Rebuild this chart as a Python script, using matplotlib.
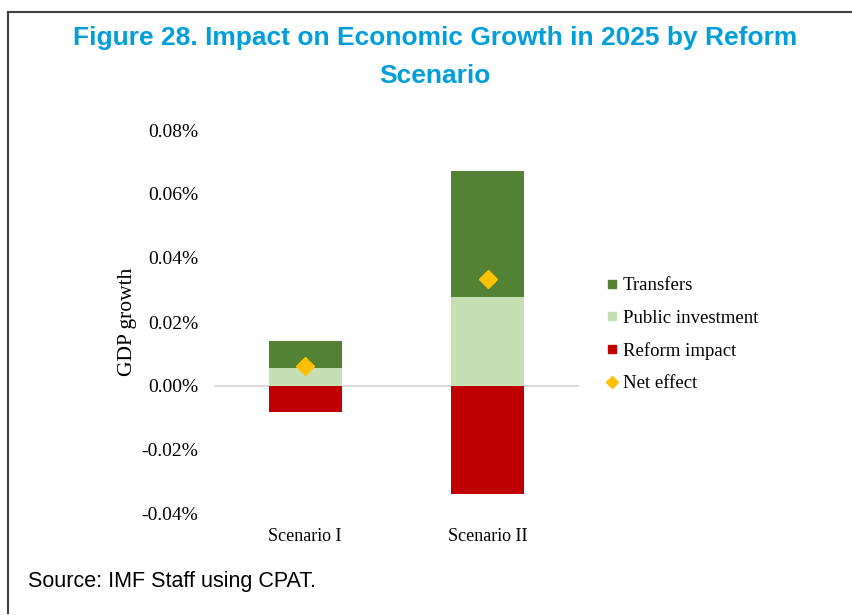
import matplotlib
matplotlib.use("Agg")
import matplotlib.pyplot as plt
from matplotlib.lines import Line2D
from matplotlib.ticker import FuncFormatter
import numpy as np

# GDP growth impact, percent
scenarios = ["Scenario I", "Scenario II"]
public_investment = [0.0055, 0.0279]
transfers = [0.0086, 0.0394]
reform_impact = [-0.0080, -0.0339]
net_effect = [0.0061, 0.0334]

c_transfers = "#548235"
c_public = "#C5E0B4"
c_reform = "#C00000"
c_net = "#FFC000"

serif = "Liberation Serif"
sans = "Liberation Sans"

fig = plt.figure(figsize=(8.53, 6.15), dpi=100)
ax = fig.add_axes([214/853, 1 - 514/615, 365/853, 384/615])

x = np.arange(len(scenarios))
w = 0.4
ax.bar(x, reform_impact, w, color=c_reform, zorder=2)
ax.bar(x, public_investment, w, color=c_public, zorder=2)
ax.bar(x, transfers, w, bottom=public_investment, color=c_transfers, zorder=2)
ax.plot(x, net_effect, linestyle="none", marker="D", markersize=9,
        color=c_net, zorder=3)
ax.axhline(0, color="#D9D9D9", lw=1.5, zorder=1)

ax.set_xlim(-0.5, 1.5)
ax.set_ylim(-0.04, 0.08)
ax.set_yticks(np.arange(-0.04, 0.081, 0.02))
ax.yaxis.set_major_formatter(FuncFormatter(lambda v, p: f"{v:.2f}%"))
ax.set_xticks(x)
ax.set_xticklabels(scenarios)
for s in ax.spines.values():
    s.set_visible(False)
ax.tick_params(axis="y", length=0, labelsize=14, pad=11.5)
ax.tick_params(axis="x", length=0, labelsize=13, pad=10)
for lab in ax.get_xticklabels() + ax.get_yticklabels():
    lab.set_fontfamily(serif)
ax.set_ylabel("GDP growth", fontsize=15.5, fontfamily=serif, labelpad=3)

handles = [
    Line2D([], [], linestyle="none", marker="s", markersize=6, color=c_transfers),
    Line2D([], [], linestyle="none", marker="s", markersize=6, color=c_public),
    Line2D([], [], linestyle="none", marker="s", markersize=6, color=c_reform),
    Line2D([], [], linestyle="none", marker="D", markersize=6, color=c_net),
]
labels = ["Transfers", "Public investment", "Reform impact", "Net effect"]
fig.legend(handles, labels, loc="upper left", bbox_to_anchor=(606/853, 1 - 277/615),
           frameon=False, prop={"family": serif, "size": 13.5},
           handlelength=0.6, handletextpad=0.3, labelspacing=0.82,
           borderpad=0, borderaxespad=0)

fig.text(435/853, 1 - 57/615,
         "Figure 28. Impact on Economic Growth in 2025 by Reform\nScenario",
         ha="center", va="center", fontsize=19, fontweight="bold",
         color="#009FDA", family=sans, linespacing=1.7)
fig.text(28/853, 1 - 582/615, "Source: IMF Staff using CPAT.", ha="left",
         va="center", fontsize=15.5, family=sans, color="black")

# frame around the figure
fig.add_artist(Line2D([8/853, 8/853], [1 - 613/615, 1 - 12/615],
                      color="#404040", lw=1.5, transform=fig.transFigure))
fig.add_artist(Line2D([8/853, 1], [1 - 12/615, 1 - 12/615],
                      color="#404040", lw=1.5, transform=fig.transFigure))

fig.savefig("out.png", dpi=100)
